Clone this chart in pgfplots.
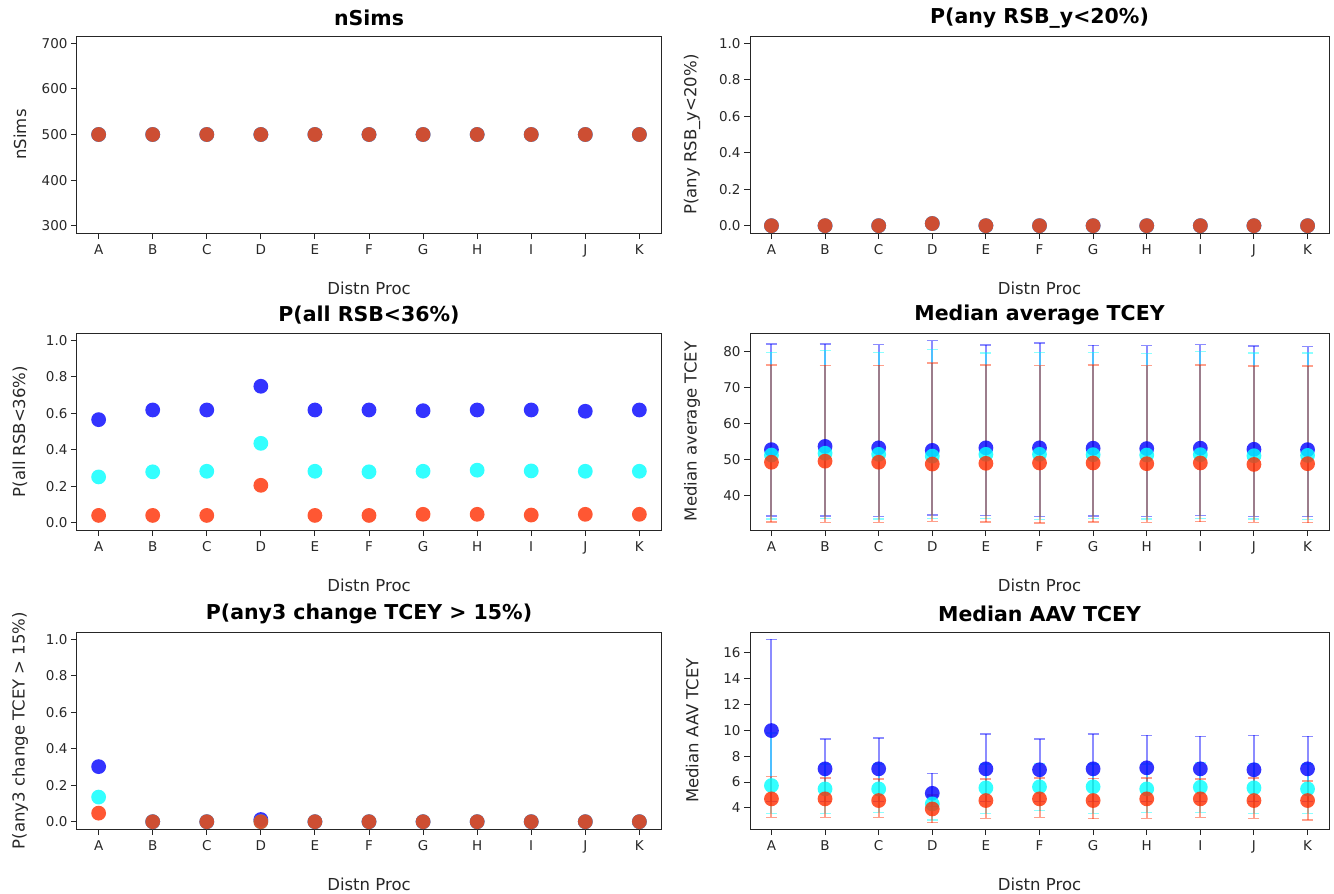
\documentclass[border=0pt]{standalone}
\usepackage{fontspec}
\setmainfont{DejaVu Sans}
\usepackage{pgfplots}
\usepackage{pgfplotstable}
\pgfplotsset{compat=1.18}

\definecolor{cB}{RGB}{0,0,255}
\definecolor{cC}{RGB}{0,255,255}
\definecolor{cO}{RGB}{255,45,0}
\definecolor{txt}{RGB}{40,40,40}

% panels with one value per series
\pgfplotstableread{
x b c o
1 500 500 500
2 500 500 500
3 500 500 500
4 500 500 500
5 500 500 500
6 500 500 500
7 500 500 500
8 500 500 500
9 500 500 500
10 500 500 500
11 500 500 500
}\tabA
\pgfplotstableread{
x b c o
1 0 0 0
2 0 0 0
3 0 0 0
4 0.012 0.012 0.012
5 0 0 0
6 0 0 0
7 0 0 0
8 0 0 0
9 0 0 0
10 0 0 0
11 0 0 0
}\tabB
\pgfplotstableread{
x b c o
1 0.565 0.251 0.040
2 0.618 0.279 0.040
3 0.618 0.282 0.040
4 0.748 0.435 0.205
5 0.618 0.282 0.040
6 0.618 0.279 0.040
7 0.614 0.282 0.046
8 0.618 0.288 0.046
9 0.618 0.284 0.042
10 0.611 0.282 0.046
11 0.618 0.282 0.046
}\tabC
\pgfplotstableread{
x b c o
1 0.302 0.135 0.047
2 0 0 0
3 0 0 0
4 0.012 0 0
5 0 0 0
6 0 0 0
7 0 0 0
8 0 0 0
9 0 0 0
10 0 0 0
11 0 0 0
}\tabE
% median with lower / upper interval
\pgfplotstableread{
x bm blo bhi cm clo chi om olo ohi
1 52.7 34.3 82.1 51.2 33.4 79.7 49.2 32.6 76.2
2 53.6 34.3 82.1 51.7 33.5 80.3 49.5 32.5 76.1
3 53.2 34.2 81.9 51.4 33.4 79.7 49.2 32.5 76.1
4 52.5 34.5 83.0 50.9 33.6 80.5 48.7 32.8 76.8
5 53.2 34.4 81.8 51.4 33.5 79.6 48.9 32.6 76.2
6 53.2 34.1 82.3 51.4 33.3 79.7 49.0 32.3 76.0
7 53.1 34.3 81.7 51.3 33.5 79.7 49.0 32.6 76.2
8 53.0 34.2 81.6 51.2 33.4 79.4 48.8 32.5 76.0
9 53.1 34.4 81.9 51.3 33.5 79.9 49.0 32.7 76.2
10 52.8 34.2 81.5 51.0 33.4 79.5 48.6 32.5 75.9
11 52.7 34.1 81.3 51.1 33.3 79.5 48.8 32.4 75.9
}\tabD
\pgfplotstableread{
x bm blo bhi cm clo chi om olo ohi
1 9.98 4.5 17.03 5.73 3.58 9.8 4.70 3.27 6.42
2 7.02 4.5 9.34 5.47 3.58 7.4 4.70 3.27 6.32
3 7.02 4.5 9.42 5.47 3.66 7.4 4.57 3.27 6.25
4 5.13 4.1 6.68 4.31 3.07 4.9 3.92 2.86 5.0
5 7.02 4.5 9.73 5.55 3.58 7.4 4.57 3.19 6.25
6 6.95 4.5 9.34 5.63 3.78 7.45 4.70 3.27 6.32
7 7.02 4.5 9.73 5.63 3.58 7.4 4.57 3.18 6.28
8 7.10 4.5 9.60 5.47 3.66 7.4 4.70 3.19 6.32
9 7.02 4.5 9.54 5.60 3.66 7.5 4.70 3.27 6.25
10 6.95 4.5 9.60 5.55 3.58 7.45 4.57 3.19 6.30
11 7.02 4.5 9.54 5.47 3.58 7.4 4.57 3.06 6.08
}\tabF

\pgfplotsset{
  panel/.style={
    scale only axis, height=197pt,
    xmin=0.6, xmax=11.4,
    xtick={1,...,11}, xticklabels={A,B,C,D,E,F,G,H,I,J,K},
    tick pos=left, tick align=outside, major tick length=6pt,
    axis line style={black!85, line width=1pt},
    every tick/.style={black!85, line width=1pt},
    ticklabel style={font=\fontsize{13.5}{16}\selectfont, text=txt},
    /pgf/number format/assume math mode=true,
    xticklabel style={yshift=-2pt},
    xlabel={Distn Proc},
    label style={font=\fontsize{16.5}{19}\selectfont, text=txt},
    title style={font=\bfseries\fontsize{20.5}{24}\selectfont, at={(axis description cs:0.5,1.060)}, anchor=center, yshift=0pt},
    xlabel style={at={(axis description cs:0.5,-0.279)}, anchor=center},
    clip=false,
  },
  leftp/.style={panel, width=584pt, ylabel style={at={(axis description cs:-0.0976,0.5)}, anchor=center}},
  rightp/.style={panel, width=579pt, ylabel style={at={(axis description cs:-0.100,0.5)}, anchor=center}},
  prob/.style={ymin=-0.04, ymax=1.04, ytick={0,0.2,...,1.0},
    yticklabel style={/pgf/number format/.cd, fixed, fixed zerofill, precision=1}},
  dot/.style={only marks, mark=*, mark size=7.4pt,
    mark options={fill=#1, fill opacity=0.8, draw opacity=0}},
  ebar/.style={only marks, mark=*, mark size=0.1pt,
    mark options={fill opacity=0, draw opacity=0},
    error bars/.cd, y dir=both, y explicit,
    error bar style={draw=#1, opacity=0.45, line width=2pt},
    error mark options={rotate=90, draw=#1, opacity=0.45, mark size=5.5pt, line width=1.4pt}},
}

\begin{document}
\begin{tikzpicture}
\useasboundingbox (0pt,0pt) rectangle (1334pt,-894pt);

% nSims
\begin{axis}[leftp, at={(77pt,-36pt)}, anchor=north west,
  title={nSims}, ylabel={nSims}, ymin=284, ymax=716, ytick={300,400,...,700}]
  \addplot[dot=cB] table[x=x,y=b] {\tabA};
  \addplot[dot=cC] table[x=x,y=c] {\tabA};
  \addplot[dot=cO] table[x=x,y=o] {\tabA};
\end{axis}

% P(any RSB_y<20%)
\begin{axis}[rightp, prob, at={(750pt,-36pt)}, anchor=north west,
  title={P(any RSB\_y<20\%)}, ylabel={P(any RSB\_y<20\%)}]
  \addplot[dot=cB] table[x=x,y=b] {\tabB};
  \addplot[dot=cC] table[x=x,y=c] {\tabB};
  \addplot[dot=cO] table[x=x,y=o] {\tabB};
\end{axis}

% P(all RSB<36%)
\begin{axis}[leftp, prob, at={(77pt,-333pt)}, anchor=north west,
  title={P(all RSB<36\%)}, ylabel={P(all RSB<36\%)}]
  \addplot[dot=cB] table[x=x,y=b] {\tabC};
  \addplot[dot=cC] table[x=x,y=c] {\tabC};
  \addplot[dot=cO] table[x=x,y=o] {\tabC};
\end{axis}

% Median average TCEY
\begin{axis}[rightp, at={(750pt,-333pt)}, anchor=north west,
  title={Median average TCEY}, ylabel={Median average TCEY},
  ymin=30.38, ymax=85.1, ytick={40,50,...,80}]
  \addplot[dot=cB] table[x=x,y=bm] {\tabD};
  \addplot[dot=cC] table[x=x,y=cm] {\tabD};
  \addplot[dot=cO] table[x=x,y=om] {\tabD};
  \addplot[ebar=cB] table[x=x,y=bm,y error plus expr=\thisrow{bhi}-\thisrow{bm},y error minus expr=\thisrow{bm}-\thisrow{blo}] {\tabD};
  \addplot[ebar=cC] table[x=x,y=cm,y error plus expr=\thisrow{chi}-\thisrow{cm},y error minus expr=\thisrow{cm}-\thisrow{clo}] {\tabD};
  \addplot[ebar=cO] table[x=x,y=om,y error plus expr=\thisrow{ohi}-\thisrow{om},y error minus expr=\thisrow{om}-\thisrow{olo}] {\tabD};
\end{axis}

% P(any3 change TCEY > 15%)
\begin{axis}[leftp, prob, at={(77pt,-632pt)}, anchor=north west,
  title={P(any3 change TCEY > 15\%)}, ylabel={P(any3 change TCEY > 15\%)}]
  \addplot[dot=cB] table[x=x,y=b] {\tabE};
  \addplot[dot=cC] table[x=x,y=c] {\tabE};
  \addplot[dot=cO] table[x=x,y=o] {\tabE};
\end{axis}

% Median AAV TCEY
\begin{axis}[rightp, at={(750pt,-632pt)}, anchor=north west,
  title={Median AAV TCEY}, ylabel={Median AAV TCEY},
  ymin=2.37, ymax=17.6, ytick={4,6,...,16}]
  \addplot[dot=cB] table[x=x,y=bm] {\tabF};
  \addplot[dot=cC] table[x=x,y=cm] {\tabF};
  \addplot[dot=cO] table[x=x,y=om] {\tabF};
  \addplot[ebar=cB] table[x=x,y=bm,y error plus expr=\thisrow{bhi}-\thisrow{bm},y error minus expr=\thisrow{bm}-\thisrow{blo}] {\tabF};
  \addplot[ebar=cC] table[x=x,y=cm,y error plus expr=\thisrow{chi}-\thisrow{cm},y error minus expr=\thisrow{cm}-\thisrow{clo}] {\tabF};
  \addplot[ebar=cO] table[x=x,y=om,y error plus expr=\thisrow{ohi}-\thisrow{om},y error minus expr=\thisrow{om}-\thisrow{olo}] {\tabF};
\end{axis}
\end{tikzpicture}
\end{document}
